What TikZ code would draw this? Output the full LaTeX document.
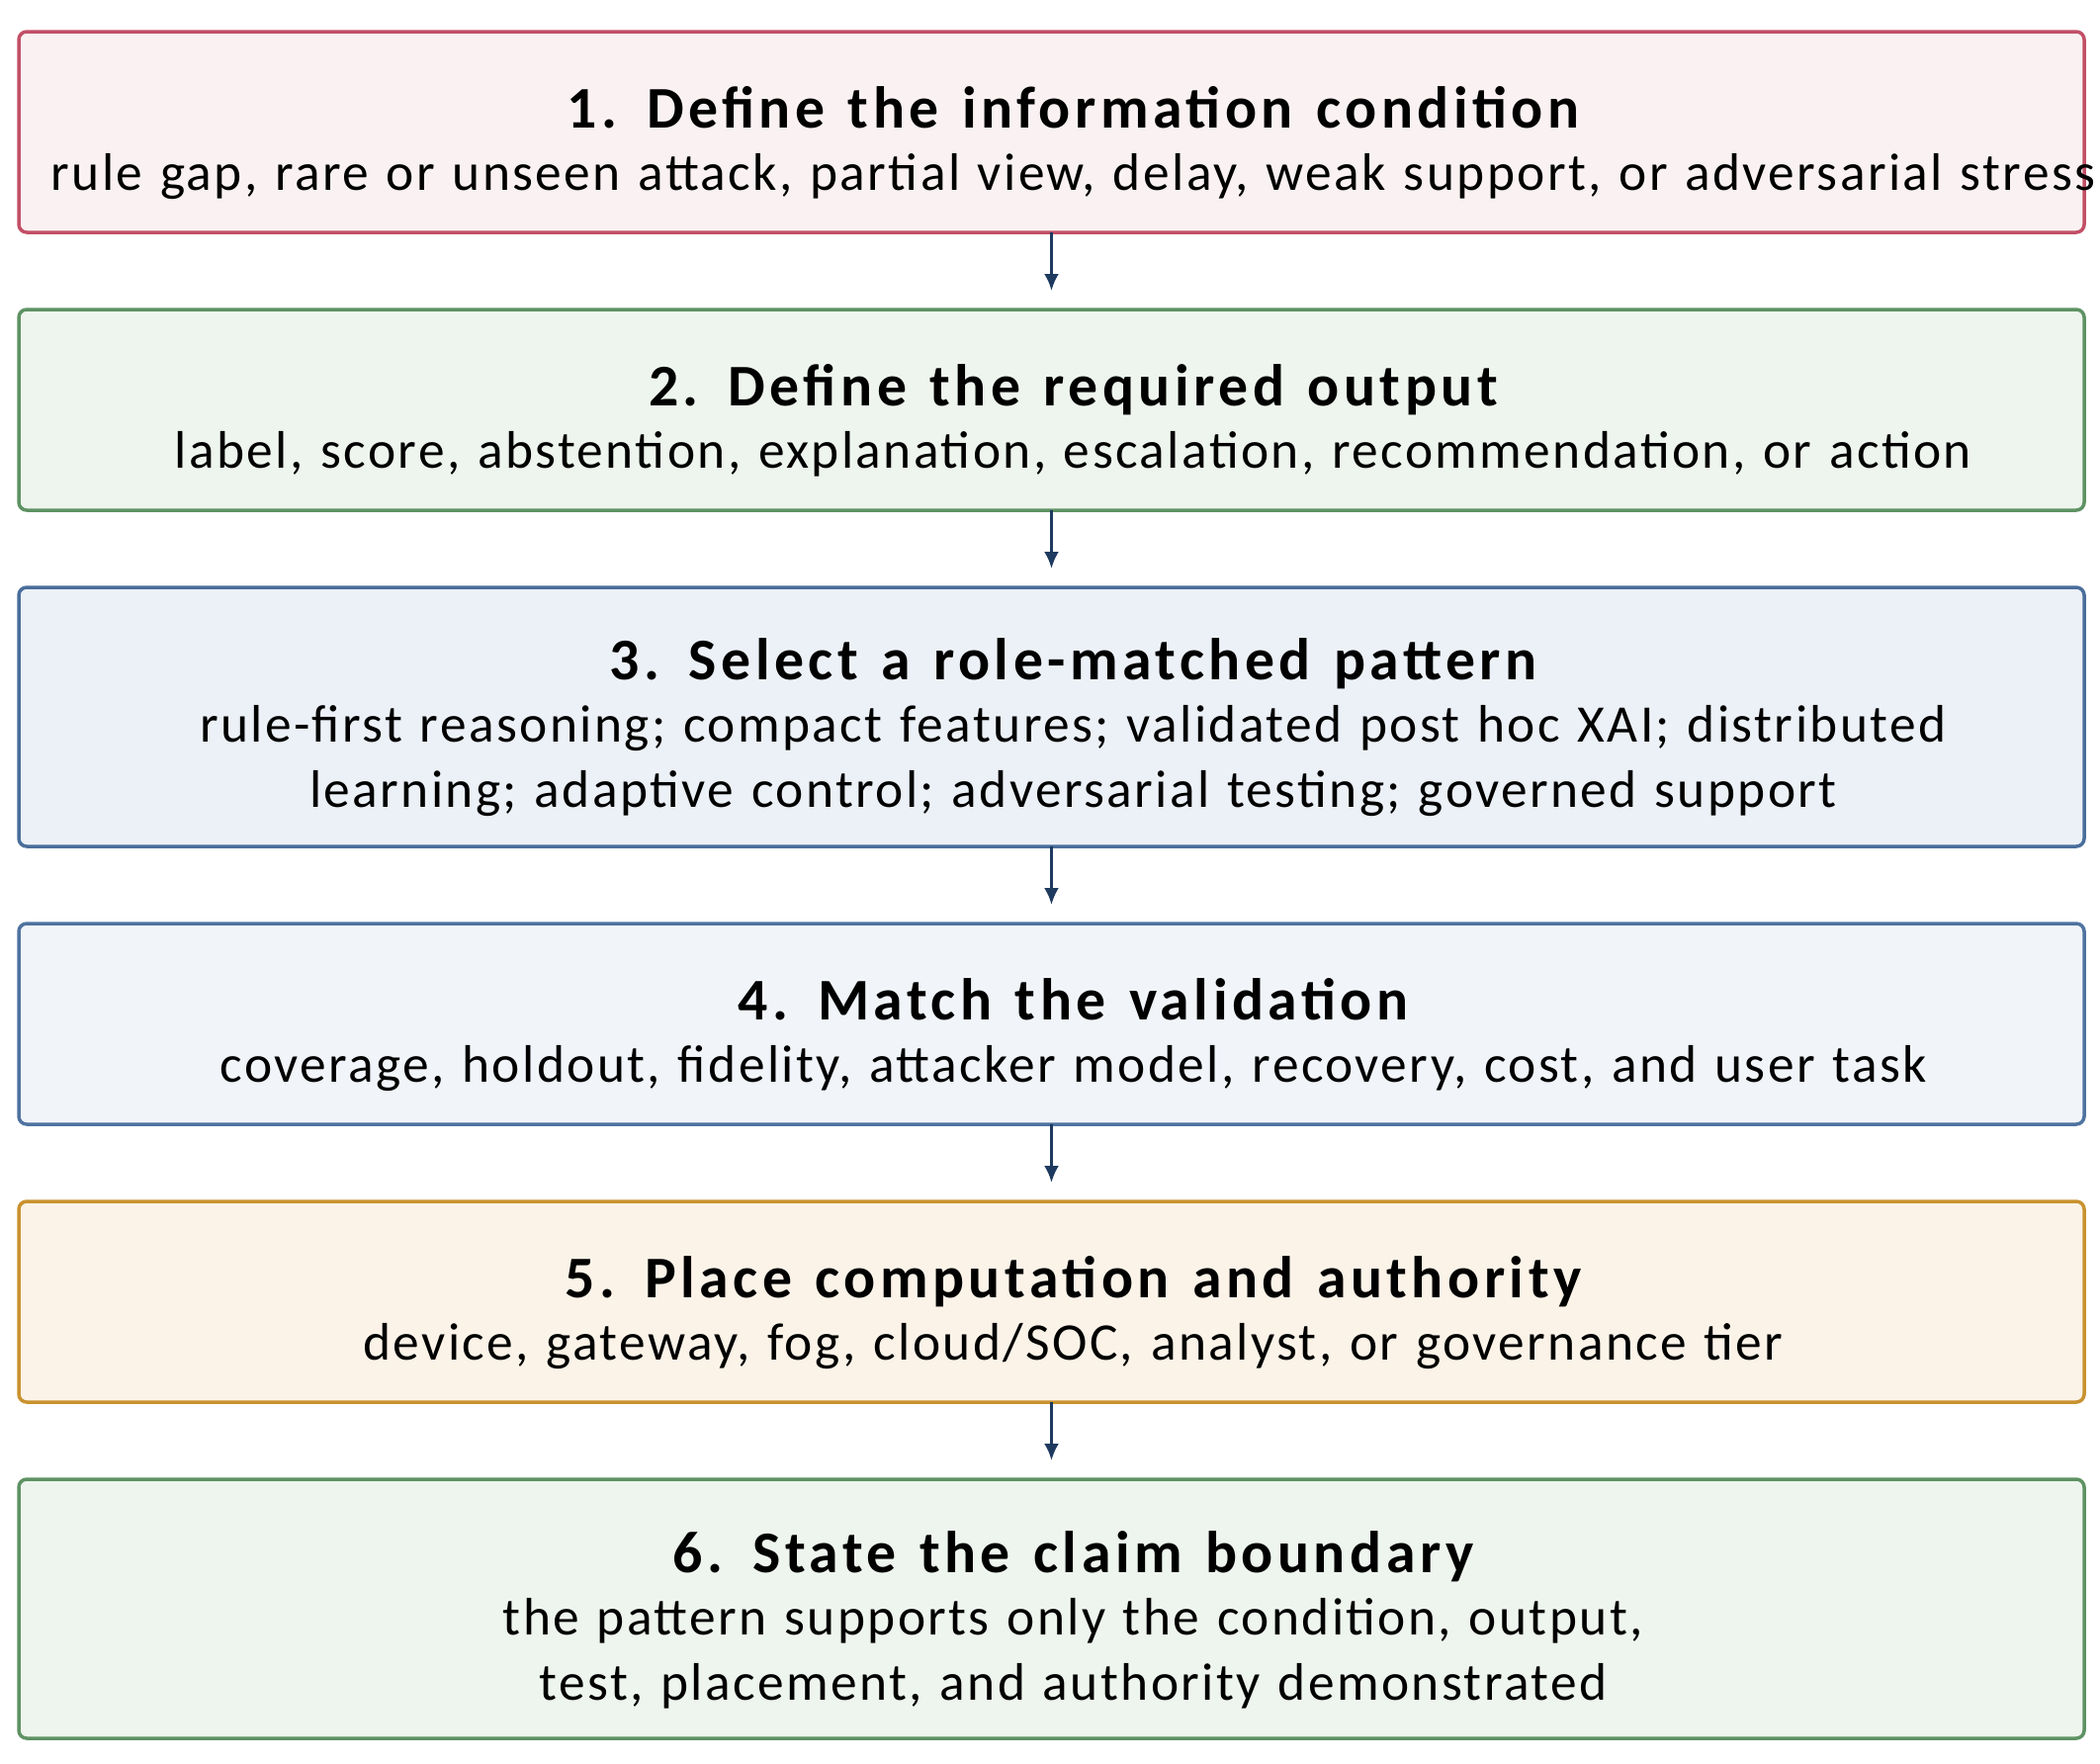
\documentclass[tikz,border=0pt]{standalone}
\usepackage{fontspec}
\setmainfont{Carlito}
\newfontfamily\wide[LetterSpace=4.5,WordSpace=1.22]{Carlito}
\newfontfamily\widehd[LetterSpace=7.5,WordSpace=1.3]{Carlito}
\usetikzlibrary{positioning,arrows.meta}
\definecolor{redline}{HTML}{C24F66}
\definecolor{redfill}{HTML}{FAF2F2}
\definecolor{greenline}{HTML}{5E9263}
\definecolor{greenfill}{HTML}{EEF5EE}
\definecolor{blueline}{HTML}{4A6E9B}
\definecolor{bluefill}{HTML}{ECF1F7}
\definecolor{paleline}{HTML}{4F73A0}
\definecolor{palefill}{HTML}{F1F5FA}
\definecolor{goldline}{HTML}{C9922F}
\definecolor{goldfill}{HTML}{FBF3E8}
\definecolor{navy}{HTML}{1E3A5F}
\newcommand{\hd}[1]{{\widehd\fontsize{17}{19}\selectfont\bfseries #1}}
\tikzset{
card/.style={draw=#1line, fill=#1fill, rounded corners=0.08cm, line width=0.035cm,
  minimum width=20.89cm, minimum height=2.03cm, inner sep=0pt, outer sep=0pt},
tall/.style={minimum height=2.62cm},
txt/.style={align=center, inner sep=0pt, font=\wide\fontsize{15.2}{18.8}\selectfont},
flow/.style={draw=navy, line width=0.03cm, -{Latex[length=0.17cm,width=0.15cm]}}
}
\begin{document}
\begin{tikzpicture}
\useasboundingbox (0,0) rectangle (21.24,-17.84);
\node[card=red, anchor=north west] (s1) at (0.19,-0.32) {};
\node[card=green, below=0.78cm of s1] (s2) {};
\node[card=blue, tall, below=0.78cm of s2] (s3) {};
\node[card=pale, below=0.78cm of s3] (s4) {};
\node[card=gold, below=0.78cm of s4] (s5) {};
\node[card=green, tall, below=0.78cm of s5] (s6) {};

\node[txt] (t1) at ([shift={(0.22,-0.11)}]s1.center) {\hd{1.\enspace Define the information condition}\\[-0.03cm]
  rule gap, rare or unseen attack, partial view, delay, weak support, or adversarial stress};
\node[txt] (t2) at ([shift={(0.22,-0.11)}]s2.center) {\hd{2.\enspace Define the required output}\\[-0.03cm]
  label, score, abstention, explanation, escalation, recommendation, or action};
\node[txt] (t3) at ([shift={(0.22,-0.11)}]s3.center) {\hd{3.\enspace Select a role-matched pattern}\\[-0.03cm]
  rule-first reasoning; compact features; validated post hoc XAI; distributed\\
  learning; adaptive control; adversarial testing; governed support};
\node[txt] (t4) at ([shift={(0.22,-0.11)}]s4.center) {\hd{4.\enspace Match the validation}\\[-0.03cm]
  coverage, holdout, fidelity, attacker model, recovery, cost, and user task};
\node[txt] (t5) at ([shift={(0.22,-0.11)}]s5.center) {\hd{5.\enspace Place computation and authority}\\[-0.03cm]
  device, gateway, fog, cloud/SOC, analyst, or governance tier};
\node[txt] (t6) at ([shift={(0.22,-0.11)}]s6.center) {\hd{6.\enspace State the claim boundary}\\[-0.03cm]
  the pattern supports only the condition, output,\\
  test, placement, and authority demonstrated};

\draw[flow] (s1) -- ([yshift=0.19cm]s2.north);
\draw[flow] (s2) -- ([yshift=0.19cm]s3.north);
\draw[flow] (s3) -- ([yshift=0.19cm]s4.north);
\draw[flow] (s4) -- ([yshift=0.19cm]s5.north);
\draw[flow] (s5) -- ([yshift=0.19cm]s6.north);
\end{tikzpicture}
\end{document}
